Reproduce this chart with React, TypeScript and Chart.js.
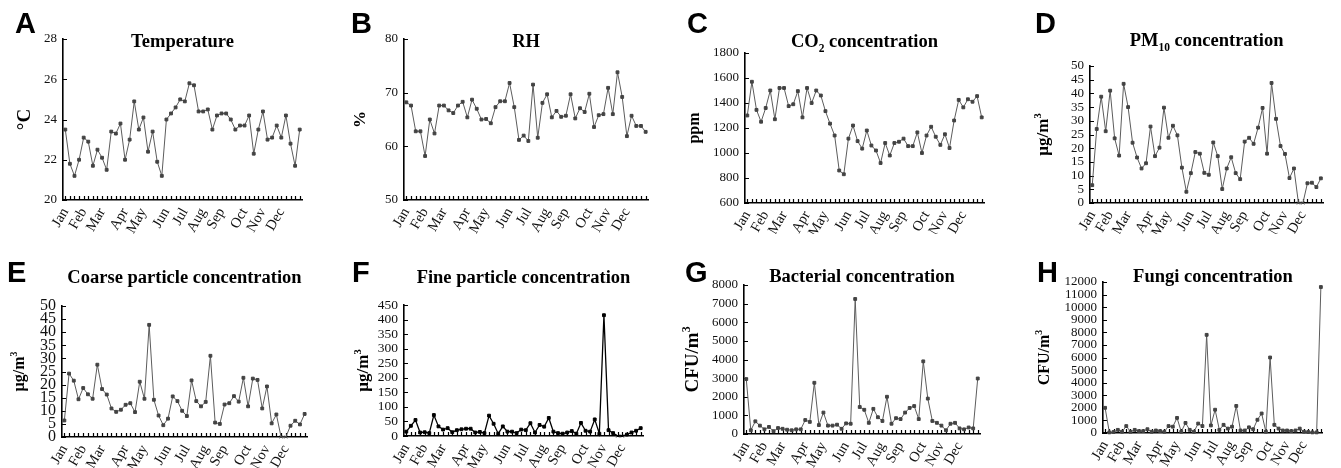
import React, { useEffect, useRef } from 'react';
import { Chart, registerables } from 'chart.js';

Chart.register(...registerables);

// ---------- data ----------
const MONTHS = ['Jan', 'Feb', 'Mar', 'Apr', 'May', 'Jun', 'Jul', 'Aug', 'Sep', 'Oct', 'Nov', 'Dec'];
const MONTH_START_WEEK = [0, 4, 8, 13, 17, 22, 26, 30, 34, 39, 43, 47];
const WEEK_COUNT = 52;
const WEEK_LABELS = Array.from({ length: WEEK_COUNT }, (_, i) => {
  const m = MONTH_START_WEEK.indexOf(i);
  return m >= 0 ? MONTHS[m] : '';
});

const TEMPERATURE = [23.5, 21.8, 21.2, 22.0, 23.1, 22.9, 21.7, 22.5, 22.1, 21.5, 23.4, 23.3, 23.8, 22.0, 23.0, 24.9, 23.5, 24.1, 22.4, 23.4, 21.9, 21.2, 24.0, 24.3, 24.6, 25.0, 24.9, 25.8, 25.7, 24.4, 24.4, 24.5, 23.5, 24.2, 24.3, 24.3, 24.0, 23.5, 23.7, 23.7, 24.2, 22.3, 23.5, 24.4, 23.0, 23.1, 23.7, 23.1, 24.2, 22.8, 21.7, 23.5];
const RH = [68.2, 67.6, 62.8, 62.8, 58.2, 65.0, 62.4, 67.6, 67.6, 66.7, 66.2, 67.6, 68.3, 65.4, 68.7, 67.0, 65.0, 65.1, 64.3, 67.3, 68.4, 68.4, 71.8, 67.3, 61.2, 62.0, 61.0, 71.5, 61.6, 68.1, 69.7, 65.4, 66.6, 65.5, 65.7, 69.7, 65.2, 67.1, 66.4, 69.8, 63.6, 65.8, 66.0, 70.9, 66.0, 73.8, 69.2, 61.9, 65.7, 63.8, 63.8, 62.7];
const CO2 = [1300, 1570, 1345, 1250, 1360, 1500, 1270, 1520, 1520, 1375, 1390, 1495, 1285, 1520, 1400, 1500, 1460, 1335, 1235, 1140, 860, 830, 1115, 1220, 1095, 1035, 1180, 1060, 1020, 920, 1080, 980, 1080, 1090, 1115, 1055, 1055, 1165, 1000, 1140, 1210, 1130, 1065, 1150, 1040, 1260, 1425, 1365, 1430, 1410, 1455, 1285];
const PM10 = [6.5, 27, 38.8, 26.2, 41, 23.6, 17.3, 43.5, 35, 22, 16.6, 12.6, 14.5, 27.9, 17.1, 20.2, 34.8, 23.8, 28.2, 24.7, 12.9, 4.1, 10.9, 18.6, 18, 11, 10.3, 22.1, 17.1, 5.1, 12.6, 16.7, 10.9, 8.7, 22.4, 23.8, 21.6, 27.5, 34.7, 18.0, 43.8, 30.7, 20.8, 17.9, 9.1, 12.6, 0, 0, 7.2, 7.4, 5.8, 9.0];
const COARSE = [6.3, 24.2, 21.5, 14.4, 18.7, 16.3, 14.6, 27.6, 18.3, 16.2, 10.9, 9.6, 10.4, 12.3, 12.9, 9.5, 21.1, 14.6, 42.8, 14.2, 8.2, 4.5, 7.0, 15.5, 13.7, 10.0, 8.0, 21.6, 13.7, 11.7, 13.4, 31.0, 5.5, 5.0, 12.4, 12.9, 15.6, 13.5, 22.6, 11.7, 22.3, 21.8, 10.9, 19.3, 5.2, 8.6, 0, 0, 4.3, 6.2, 4.8, 8.8];
const FINE = [15, 35, 55, 12, 13, 10, 72, 33, 22, 27, 13, 20, 23, 25, 25, 12, 14, 10, 70, 42, 8, 33, 15, 15, 10, 22, 20, 44, 12, 38, 32, 62, 15, 10, 8, 12, 17, 8, 45, 18, 15, 57, 8, 415, 20, 10, 0, 0, 5, 12, 18, 27];
const BACTERIA = [2950, 200, 680, 450, 250, 380, 150, 320, 280, 230, 200, 250, 250, 750, 650, 2750, 480, 1150, 450, 450, 500, 280, 570, 550, 7250, 1450, 1300, 600, 1350, 900, 700, 2000, 550, 850, 800, 1150, 1400, 1500, 800, 3900, 1900, 700, 600, 450, 200, 550, 600, 300, 250, 350, 300, 2980];
const FUNGI = [2000, 50, 80, 250, 100, 550, 100, 250, 150, 150, 300, 100, 200, 150, 100, 550, 500, 1200, 100, 800, 250, 100, 750, 550, 7800, 600, 1850, 250, 650, 350, 500, 2150, 200, 200, 450, 300, 1050, 1550, 100, 6000, 650, 350, 200, 200, 150, 200, 350, 100, 80, 50, 50, 11600];

// ---------- rendering helpers ----------
type Seg = { t: string; s?: 'sub' | 'sup' };
const SERIF = '"Liberation Serif", "Times New Roman", serif';
const SANS = '"Liberation Sans", Arial, sans-serif';

function drawRich(ctx: CanvasRenderingContext2D, segs: Seg[], cx: number, cy: number, size: number, rotate: boolean) {
  ctx.save();
  ctx.translate(cx, cy);
  if (rotate) ctx.rotate(-Math.PI / 2);
  const fontFor = (s: Seg) => `bold ${s.s ? size * 0.62 : size}px ${SERIF}`;
  let total = 0;
  for (const s of segs) {
    ctx.font = fontFor(s);
    total += ctx.measureText(s.t).width;
  }
  let x = -total / 2;
  ctx.textAlign = 'left';
  ctx.textBaseline = 'alphabetic';
  ctx.fillStyle = '#000';
  for (const s of segs) {
    ctx.font = fontFor(s);
    const dy = s.s === 'sub' ? size * 0.3 : s.s === 'sup' ? -size * 0.42 : 0;
    ctx.fillText(s.t, x, dy);
    x += ctx.measureText(s.t).width;
  }
  ctx.restore();
}

type Panel = {
  letter: string;
  title: Seg[];
  yTitle: Seg[];
  values: number[];
  x: number; y: number; w: number; h: number;
  L: number; R: number; T: number; B: number;
  min: number; max: number; step: number;
  yTickSize: number;
  yTitleX: number; yTitleSize: number;
  letterX: number; letterBase: number;
  titleBase: number;
  color: string; pointColor: string; lineWidth: number;
};

const UGM3: Seg[] = [{ t: '\u00B5g/m' }, { t: '3', s: 'sup' }];
const CFUM3: Seg[] = [{ t: 'CFU/m' }, { t: '3', s: 'sup' }];
const GRAY = '#5c5c5c';
const GRAYPT = '#434343';

const PANELS: Panel[] = [
  { letter: 'A', title: [{ t: 'Temperature' }], yTitle: [{ t: '\u00B0C' }], values: TEMPERATURE, x: 0, y: 0, w: 335, h: 234, L: 63, R: 302, T: 39, B: 200, min: 20, max: 28, step: 2, yTickSize: 13, yTitleX: 23, yTitleSize: 19, letterX: 15, letterBase: 33, titleBase: 47, color: GRAY, pointColor: GRAYPT, lineWidth: 1 },
  { letter: 'B', title: [{ t: 'RH' }], yTitle: [{ t: '%' }], values: RH, x: 335, y: 0, w: 335, h: 234, L: 69, R: 313, T: 39, B: 200, min: 50, max: 80, step: 10, yTickSize: 13, yTitleX: 24, yTitleSize: 17, letterX: 16, letterBase: 33, titleBase: 47, color: GRAY, pointColor: GRAYPT, lineWidth: 1 },
  { letter: 'C', title: [{ t: 'CO' }, { t: '2', s: 'sub' }, { t: ' concentration' }], yTitle: [{ t: 'ppm' }], values: CO2, x: 670, y: 0, w: 335, h: 234, L: 75, R: 314, T: 53, B: 203, min: 600, max: 1800, step: 200, yTickSize: 13, yTitleX: 23, yTitleSize: 16, letterX: 17, letterBase: 33, titleBase: 46.5, color: GRAY, pointColor: GRAYPT, lineWidth: 1 },
  { letter: 'D', title: [{ t: 'PM' }, { t: '10', s: 'sub' }, { t: ' concentration' }], yTitle: UGM3, values: PM10, x: 1005, y: 0, w: 336, h: 234, L: 85, R: 328, T: 66, B: 203, min: 0, max: 50, step: 5, yTickSize: 13, yTitleX: 37, yTitleSize: 17, letterX: 30, letterBase: 33, titleBase: 45.5, color: GRAY, pointColor: GRAYPT, lineWidth: 1 },
  { letter: 'E', title: [{ t: 'Coarse particle concentration' }], yTitle: UGM3, values: COARSE, x: 0, y: 234, w: 335, h: 234, L: 62, R: 307, T: 72, B: 203, min: 0, max: 50, step: 5, yTickSize: 16, yTitleX: 18, yTitleSize: 16, letterX: 7, letterBase: 48, titleBase: 49, color: GRAY, pointColor: GRAYPT, lineWidth: 1 },
  { letter: 'F', title: [{ t: 'Fine particle concentration' }], yTitle: UGM3, values: FINE, x: 335, y: 234, w: 335, h: 234, L: 69, R: 308, T: 71, B: 202, min: 0, max: 450, step: 50, yTickSize: 13.5, yTitleX: 27, yTitleSize: 17, letterX: 17, letterBase: 48, titleBase: 49, color: '#000', pointColor: '#000', lineWidth: 1.3 },
  { letter: 'G', title: [{ t: 'Bacterial concentration' }], yTitle: CFUM3, values: BACTERIA, x: 670, y: 234, w: 335, h: 234, L: 74, R: 310, T: 51, B: 200, min: 0, max: 8000, step: 1000, yTickSize: 13, yTitleX: 21, yTitleSize: 19, letterX: 15, letterBase: 48, titleBase: 48, color: GRAY, pointColor: GRAYPT, lineWidth: 1 },
  { letter: 'H', title: [{ t: 'Fungi concentration' }], yTitle: CFUM3, values: FUNGI, x: 1005, y: 234, w: 336, h: 234, L: 98, R: 330, T: 48, B: 199, min: 0, max: 12000, step: 1000, yTickSize: 13, yTitleX: 38, yTitleSize: 16, letterX: 32, letterBase: 48, titleBase: 48, color: GRAY, pointColor: GRAYPT, lineWidth: 1 },
];

function decorPlugin(p: Panel) {
  return {
    id: 'decor' + p.letter,
    beforeDatasetsDraw(chart: any) {
      const ctx: CanvasRenderingContext2D = chart.ctx;
      const area = chart.chartArea;
      const xs = chart.scales.x;
      const ys = chart.scales.y;
      ctx.save();
      ctx.strokeStyle = '#000';
      ctx.lineWidth = 1.2;
      ctx.beginPath();
      for (let i = 0; i < WEEK_COUNT; i++) {
        const px = Math.round(xs.getPixelForValue(i)) + 0.5;
        ctx.moveTo(px, area.bottom);
        ctx.lineTo(px, area.bottom - 4);
      }
      for (const t of ys.ticks) {
        const py = Math.round(ys.getPixelForValue(t.value)) + 0.5;
        ctx.moveTo(area.left, py);
        ctx.lineTo(area.left + 4, py);
      }
      ctx.stroke();
      ctx.restore();
    },
    afterDraw(chart: any) {
      const ctx: CanvasRenderingContext2D = chart.ctx;
      const area = chart.chartArea;
      ctx.save();
      ctx.fillStyle = '#000';
      ctx.font = `bold 29px ${SANS}`;
      ctx.textAlign = 'left';
      ctx.textBaseline = 'alphabetic';
      ctx.fillText(p.letter, p.letterX, p.letterBase);
      ctx.restore();
      drawRich(ctx, p.title, (area.left + area.right) / 2, p.titleBase, 18.5, false);
      drawRich(ctx, p.yTitle, p.yTitleX + p.yTitleSize * 0.35, (area.top + area.bottom) / 2, p.yTitleSize, true);
    },
  };
}

function makeConfig(p: Panel): any {
  return {
    type: 'line',
    data: {
      labels: WEEK_LABELS,
      datasets: [
        {
          data: p.values,
          borderColor: p.color,
          borderWidth: p.lineWidth,
          tension: 0,
          clip: false,
          pointRadius: 2,
          pointBorderWidth: 1,
          pointBackgroundColor: p.pointColor,
          pointBorderColor: p.pointColor,
          pointStyle: (c: any) => (c.raw === 0 ? 'crossRot' : 'rect'),
        },
      ],
    },
    options: {
      animation: false,
      responsive: false,
      devicePixelRatio: 1,
      events: [],
      layout: { padding: { top: p.T, right: p.w - p.R, left: 0, bottom: 0 } },
      plugins: { legend: { display: false }, title: { display: false }, tooltip: { enabled: false } },
      scales: {
        x: {
          type: 'category',
          offset: true,
          grid: { display: false, drawTicks: false },
          border: { display: true, color: '#000', width: 1.6 },
          ticks: {
            autoSkip: false,
            minRotation: 60,
            maxRotation: 60,
            padding: 5,
            color: '#111',
            font: { family: SERIF, size: 14.5 },
          },
          afterFit: (s: any) => { s.height = p.h - p.B; },
        },
        y: {
          min: p.min,
          max: p.max,
          grid: { display: false, drawTicks: false },
          border: { display: true, color: '#000', width: 1.6 },
          ticks: {
            stepSize: p.step,
            autoSkip: false,
            padding: 6,
            color: '#111',
            font: { family: SERIF, size: p.yTickSize },
            callback: (v: any) => String(v),
          },
          afterFit: (s: any) => { s.width = p.L; },
        },
      },
    },
    plugins: [decorPlugin(p)],
  };
}

function PanelChart({ p }: { p: Panel }) {
  const ref = useRef<HTMLCanvasElement>(null);
  useEffect(() => {
    const chart = new Chart(ref.current as HTMLCanvasElement, makeConfig(p));
    return () => chart.destroy();
  }, [p]);
  return (
    <canvas
      ref={ref}
      width={p.w}
      height={p.h}
      style={{ position: 'absolute', left: p.x, top: p.y, width: p.w, height: p.h }}
    />
  );
}

export default function App() {
  return (
    <div style={{ position: 'absolute', left: 0, top: 0, width: 1341, height: 468, background: '#fff', overflow: 'hidden' }}>
      {PANELS.map((p) => (
        <PanelChart key={p.letter} p={p} />
      ))}
    </div>
  );
}
